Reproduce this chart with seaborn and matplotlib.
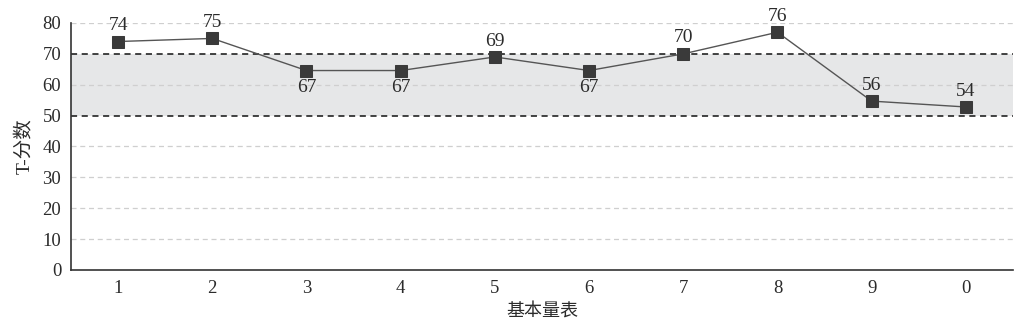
import matplotlib
matplotlib.use("Agg")
import matplotlib.pyplot as plt
import seaborn as sns
import pandas as pd
from matplotlib.ticker import FixedLocator

scales = ["1", "2", "3", "4", "5", "6", "7", "8", "9", "0"]
plotted = [74, 75, 64.6, 64.6, 69, 64.6, 70, 77, 54.7, 52.8]
labels = [74, 75, 67, 67, 69, 67, 70, 76, 56, 54]
label_below = [False, False, True, True, False, True, False, False, False, False]
yticks = [0, 10, 20, 30, 40, 50, 60, 70, 80]

sns.set_theme(style="white")
plt.rcParams['font.family'] = ['Liberation Serif', 'Noto Sans CJK SC']

df = pd.DataFrame({"pos": list(range(len(scales))), "T": plotted})

fig = plt.figure(figsize=(10.24, 3.22), dpi=100)
ax = fig.add_axes([0.0693, 0.1615, 0.9199, 0.7671])

ax.axhspan(50, 70, color="#e6e7e8", zorder=0, lw=0)
for y in yticks[1:]:
    if y in (50, 70):
        ax.axhline(y, color="#111111", ls=(0, (4, 3)), lw=1.1, zorder=1)
    else:
        ax.axhline(y, color="#cfcfcf", ls=(0, (4, 3)), lw=0.9, zorder=1)

sns.lineplot(data=df, x="pos", y="T", ax=ax, color="#555555", lw=1.0,
             marker="s", markersize=9, markerfacecolor="#3a3a3a",
             markeredgecolor="#3a3a3a", zorder=3)

for i, (v, lab, below) in enumerate(zip(plotted, labels, label_below)):
    if below:
        ax.text(i, v - 2.6, str(lab), ha="center", va="top", fontsize=14, color="#2b2b2b")
    else:
        ax.text(i, v + 2.4, str(lab), ha="center", va="bottom", fontsize=14, color="#2b2b2b")

ax.set_xlim(-0.5, len(scales) - 0.5)
ax.set_ylim(0, 80)
ax.set_yticks(yticks)
ax.set_xticks(range(len(scales)))
ax.set_xticklabels(scales)
ax.xaxis.set_minor_locator(FixedLocator([i - 0.5 for i in range(len(scales) + 1)]))
ax.tick_params(axis="x", which="major", length=0, labelsize=13.5, pad=7, colors="#2b2b2b")
ax.tick_params(axis="x", which="minor", length=6, width=1, direction="out", color="#333333")
ax.tick_params(axis="y", length=4, width=1, direction="out", labelsize=13.5, pad=3, color="#333333", colors="#2b2b2b")

for s in ["top", "right"]:
    ax.spines[s].set_visible(False)
for s in ["left", "bottom"]:
    ax.spines[s].set_color("#333333")
    ax.spines[s].set_linewidth(1.2)

ax.set_ylabel("T-分数", fontsize=14, color="#2b2b2b", labelpad=6)
ax.set_xlabel("基本量表", fontsize=13, color="#2b2b2b", labelpad=5)

fig.savefig("out.png", dpi=100)
